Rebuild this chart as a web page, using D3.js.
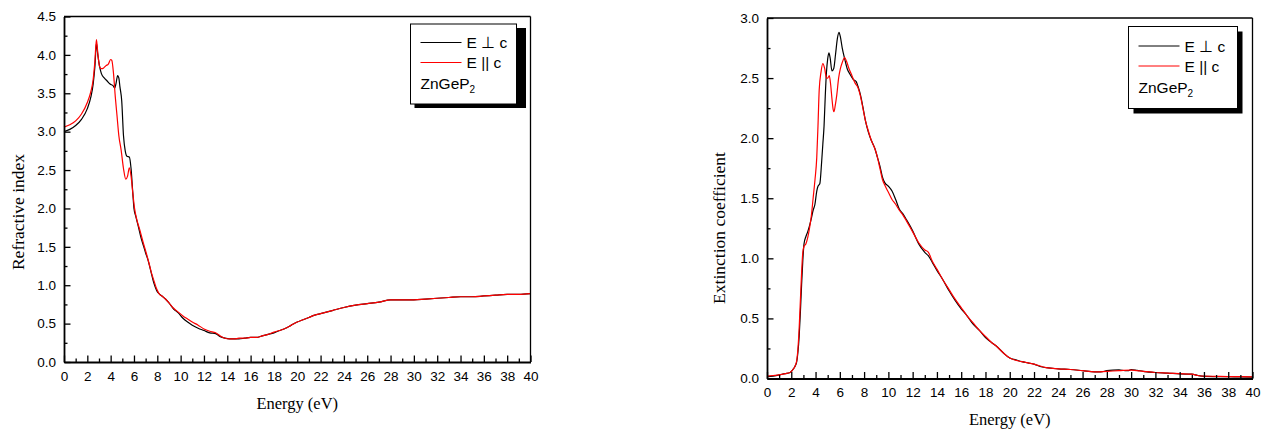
<!DOCTYPE html>
<html><head><meta charset="utf-8">
<script src="https://cdn.jsdelivr.net/npm/d3@7"></script>
<style>body{margin:0;background:#fff;} svg{display:block;}</style>
</head><body>
<svg id="c" width="1270" height="434"></svg>
<script>
// ---------- DATA ----------
// Refractive index, E perpendicular c
const nPerpE = [0,0.5,1,1.5,2,2.3,2.5,2.65,2.78,2.9,3.05,3.2,3.45,3.7,3.95,4.2,4.35,4.45,4.6,4.7,4.8,4.95,5.1,5.25,5.4,5.6,5.75,5.9,6.0,6.15,6.35,6.6,6.8,7.0,7.2,7.45,7.7,7.95,8.15,8.4,8.7,9.0,9.4,9.8,10.2,10.6,11.0,11.5,12.0,12.5,13.0,13.4,13.8,14.2,14.6,15.0,15.5,16.0,16.5,17.0,17.5,18.0,18.5,19.0,19.5,20.0,20.5,21.0,21.5,22.0,23,24,25,26,27,28,29,30,31,32,33,34,35,36,37,38,39,40];
const nPerp  = [3.00,3.03,3.08,3.16,3.30,3.45,3.62,3.85,4.15,4.00,3.85,3.76,3.70,3.66,3.62,3.60,3.57,3.62,3.73,3.70,3.58,3.40,2.95,2.75,2.68,2.67,2.52,2.20,2.00,1.90,1.78,1.62,1.52,1.42,1.33,1.18,1.03,0.93,0.89,0.86,0.82,0.77,0.69,0.64,0.57,0.52,0.48,0.44,0.41,0.38,0.37,0.33,0.31,0.30,0.30,0.30,0.31,0.32,0.32,0.34,0.36,0.38,0.41,0.44,0.48,0.52,0.55,0.58,0.61,0.63,0.67,0.71,0.74,0.76,0.78,0.81,0.81,0.81,0.82,0.83,0.84,0.85,0.85,0.86,0.87,0.88,0.88,0.89];
// Refractive index, E parallel c
const nParE = [0,0.5,1,1.5,2,2.3,2.5,2.65,2.78,2.9,3.05,3.2,3.4,3.6,3.8,4.0,4.1,4.25,4.4,4.55,4.7,4.9,5.1,5.3,5.45,5.6,5.75,5.9,6.05,6.25,6.5,6.8,7.05,7.3,7.5,7.75,7.95,8.2,8.4,8.7,9.0,9.4,9.8,10.2,10.6,11.0,11.5,12.0,12.5,13.0,13.4,13.8,14.2,14.6,15.0,15.5,16.0,16.5,17.0,17.5,18.0,18.5,19.0,19.5,20.0,20.5,21.0,21.5,22.0,23,24,25,26,27,28,29,30,31,32,33,34,35,36,37,38,39,40];
const nPar  = [3.06,3.09,3.14,3.23,3.38,3.52,3.68,3.92,4.20,4.02,3.85,3.82,3.83,3.86,3.88,3.94,3.93,3.75,3.45,3.20,2.95,2.76,2.52,2.38,2.42,2.53,2.42,2.20,2.00,1.85,1.72,1.55,1.42,1.28,1.16,1.04,0.95,0.88,0.86,0.82,0.77,0.70,0.65,0.60,0.56,0.52,0.48,0.43,0.40,0.38,0.34,0.31,0.30,0.30,0.31,0.31,0.32,0.32,0.34,0.36,0.39,0.41,0.44,0.48,0.52,0.55,0.58,0.61,0.63,0.67,0.71,0.74,0.76,0.78,0.81,0.81,0.81,0.82,0.83,0.84,0.85,0.85,0.86,0.87,0.88,0.88,0.89];
// Extinction coefficient, E perpendicular c
const kPerpE = [0,0.5,1,1.5,1.9,2.1,2.3,2.45,2.55,2.65,2.75,2.85,2.95,3.05,3.2,3.35,3.5,3.65,3.8,3.95,4.1,4.2,4.35,4.5,4.6,4.7,4.8,4.9,5.0,5.1,5.2,5.35,5.5,5.65,5.8,5.93,6.05,6.2,6.4,6.6,6.85,7.1,7.35,7.5,7.7,7.9,8.1,8.35,8.6,8.9,9.1,9.3,9.5,9.7,10.0,10.3,10.6,10.9,11.2,11.5,12.0,12.5,13.0,13.3,13.6,14.0,14.5,15.0,15.5,16.0,16.5,17.0,17.5,18.0,18.5,19.0,19.5,20.0,20.5,21.0,21.5,22.0,22.5,23.0,24.0,25.0,26.0,27.0,27.5,28.0,28.5,29.0,29.5,29.8,30.0,30.5,31.0,32.0,33.0,34.0,35.0,35.5,36.0,37,38,39,40];
const kPerp  = [0.015,0.02,0.03,0.04,0.05,0.07,0.10,0.14,0.22,0.35,0.55,0.78,0.98,1.12,1.18,1.22,1.27,1.33,1.40,1.45,1.56,1.60,1.62,1.80,1.95,2.10,2.35,2.55,2.66,2.71,2.67,2.56,2.58,2.70,2.83,2.88,2.84,2.75,2.66,2.58,2.53,2.49,2.47,2.43,2.36,2.26,2.15,2.05,1.98,1.91,1.84,1.77,1.68,1.63,1.60,1.56,1.49,1.41,1.37,1.32,1.23,1.12,1.05,1.02,0.97,0.90,0.82,0.73,0.65,0.58,0.52,0.45,0.40,0.34,0.30,0.26,0.21,0.17,0.155,0.14,0.13,0.12,0.10,0.09,0.08,0.075,0.065,0.055,0.055,0.065,0.07,0.072,0.065,0.065,0.075,0.068,0.06,0.05,0.045,0.038,0.036,0.025,0.018,0.016,0.015,0.013,0.012];
// Extinction coefficient, E parallel c
const kParE = [0,0.5,1,1.5,1.9,2.1,2.3,2.45,2.55,2.65,2.75,2.85,2.95,3.05,3.2,3.35,3.5,3.65,3.8,3.95,4.1,4.2,4.3,4.45,4.6,4.75,4.9,5.0,5.13,5.25,5.35,5.45,5.52,5.62,5.75,5.9,6.05,6.2,6.4,6.55,6.75,7.0,7.25,7.5,7.7,7.9,8.1,8.35,8.6,8.9,9.1,9.3,9.5,9.7,10.0,10.3,10.6,10.9,11.2,11.5,12.0,12.5,13.0,13.3,13.6,14.0,14.5,15.0,15.5,16.0,16.5,17.0,17.5,18.0,18.5,19.0,19.5,20.0,21,22,23,24,25,26,27,28,29,30,31,32,33,34,35,35.5,36,37,38,39,40];
const kPar  = [0.02,0.025,0.03,0.04,0.05,0.07,0.10,0.15,0.25,0.42,0.65,0.88,1.05,1.10,1.12,1.17,1.25,1.35,1.50,1.65,1.84,2.10,2.40,2.55,2.62,2.58,2.50,2.50,2.52,2.44,2.33,2.24,2.22,2.27,2.36,2.50,2.58,2.63,2.67,2.64,2.58,2.52,2.46,2.42,2.35,2.25,2.15,2.06,1.98,1.91,1.84,1.75,1.66,1.61,1.55,1.49,1.45,1.40,1.36,1.31,1.22,1.13,1.07,1.05,0.98,0.91,0.82,0.74,0.66,0.59,0.52,0.46,0.40,0.35,0.30,0.26,0.21,0.17,0.14,0.12,0.09,0.08,0.075,0.065,0.055,0.06,0.065,0.07,0.06,0.05,0.045,0.04,0.036,0.025,0.02,0.018,0.016,0.015,0.014];

const xMajorTicks = d3.range(0, 41, 2);
const xMinorTicks = d3.range(1, 40, 2);
const nMajorTicks = [0,0.5,1.0,1.5,2.0,2.5,3.0,3.5,4.0,4.5];
const nMinorTicks = [0.25,0.75,1.25,1.75,2.25,2.75,3.25,3.75,4.25];
const kMajorTicks = [0,0.5,1.0,1.5,2.0,2.5,3.0];
const kMinorTicks = [0.25,0.75,1.25,1.75,2.25,2.75];
const legendLabels = ["E \u22A5 c", "E || c"];
const seriesColors = ["#000000", "#ff0000"];
const xTitle = "Energy (eV)";

// ---------- DRAW ----------
const svg = d3.select("#c");
const tickFont = "'Liberation Sans', Arial, sans-serif";
const titleFont = "'Liberation Serif', 'Times New Roman', serif";

function panel(o) {
  const g = svg.append("g");
  const x = d3.scaleLinear().domain([0, 40]).range([o.L, o.R]);
  const y = d3.scaleLinear().domain([0, o.yMax]).range([o.B, o.T]);

  const line = d3.line().x(d => x(d[0])).y(d => y(d[1])).curve(d3.curveMonotoneX);
  o.series.forEach((s, i) => {
    const pts = s.E.map((e, j) => [e, s.v[j]]);
    g.append("path").datum(pts).attr("d", line)
      .attr("fill", "none").attr("stroke", seriesColors[i]).attr("stroke-width", 1.2)
      .attr("stroke-linejoin", "round");
  });

  g.append("line").attr("x1", o.L).attr("x2", o.R).attr("y1", o.T).attr("y2", o.T)
    .attr("stroke", "#000").attr("stroke-width", 1.3);
  g.append("line").attr("x1", o.R).attr("x2", o.R).attr("y1", o.T).attr("y2", o.B)
    .attr("stroke", "#000").attr("stroke-width", 1.3);

  const xm = g.append("g").attr("transform", `translate(0,${o.B})`)
    .call(d3.axisBottom(x).tickValues(xMinorTicks).tickSize(-3.5).tickSizeOuter(0).tickFormat(""));
  xm.select(".domain").remove();
  const xa = g.append("g").attr("transform", `translate(0,${o.B})`)
    .call(d3.axisBottom(x).tickValues(xMajorTicks).tickSize(-6.5).tickSizeOuter(0).tickPadding(9).tickFormat(d3.format("d")));
  const ym = g.append("g").attr("transform", `translate(${o.L},0)`)
    .call(d3.axisLeft(y).tickValues(o.yMinor).tickSize(-3.5).tickSizeOuter(0).tickFormat(""));
  ym.select(".domain").remove();
  const ya = g.append("g").attr("transform", `translate(${o.L},0)`)
    .call(d3.axisLeft(y).tickValues(o.yMajor).tickSize(-6.5).tickSizeOuter(0).tickPadding(8).tickFormat(d3.format(".1f")));

  [xa, ya, xm, ym].forEach(a => {
    a.selectAll(".domain").attr("stroke-width", 1.8);
    a.selectAll(".tick line").attr("stroke-width", 1.3);
    a.selectAll("text").attr("font-family", tickFont).attr("font-size", "13.5px").attr("fill", "#000");
  });

  g.append("text").attr("x", (o.L + o.R) / 2).attr("y", o.xTitleY).attr("text-anchor", "middle")
    .attr("font-family", titleFont).attr("font-size", "16.5px").text(xTitle);
  g.append("text").attr("transform", `translate(${o.yTitleX},${o.yTitleY}) rotate(-90)`)
    .attr("text-anchor", "middle").attr("font-family", titleFont).attr("font-size", "17.5px").text(o.yTitle);

  const lg = o.legend;
  g.append("rect").attr("x", lg.x + lg.sdx).attr("y", lg.y + lg.sdy).attr("width", lg.w + lg.sw).attr("height", lg.h).attr("fill", "#000");
  g.append("rect").attr("x", lg.x).attr("y", lg.y).attr("width", lg.w).attr("height", lg.h)
    .attr("fill", "#fff").attr("stroke", "#000").attr("stroke-width", 1);
  legendLabels.forEach((lab, i) => {
    const ly = lg.y + lg.row0 + i * 20;
    g.append("line").attr("x1", lg.x + 10).attr("x2", lg.x + 51).attr("y1", ly).attr("y2", ly)
      .attr("stroke", seriesColors[i]).attr("stroke-width", 1);
    g.append("text").attr("x", lg.x + 56).attr("y", ly + 5.5).attr("font-family", tickFont)
      .attr("font-size", "15.5px").text(lab);
  });
  const zt = g.append("text").attr("x", lg.x + 10).attr("y", lg.y + lg.row0 + 46.5)
    .attr("font-family", tickFont).attr("font-size", "15.5px");
  zt.append("tspan").text("ZnGeP");
  zt.append("tspan").attr("dy", 4).attr("font-size", "10px").text("2");
}

panel({
  L: 64, R: 530.5, T: 16.5, B: 362, yMax: 4.5,
  yMajor: nMajorTicks, yMinor: nMinorTicks,
  series: [{E: nPerpE, v: nPerp}, {E: nParE, v: nPar}],
  xTitleY: 408.5, yTitle: "Refractive index", yTitleX: 24, yTitleY: 212,
  legend: {x: 410.5, y: 24, w: 106, h: 80, sdx: 4, sdy: 4, sw: 5.5, row0: 18.5}
});
panel({
  L: 767, R: 1252.5, T: 18, B: 378.5, yMax: 3.0,
  yMajor: kMajorTicks, yMinor: kMinorTicks,
  series: [{E: kPerpE, v: kPerp}, {E: kParE, v: kPar}],
  xTitleY: 425, yTitle: "Extinction coefficient", yTitleX: 725, yTitleY: 228,
  legend: {x: 1128.5, y: 26.5, w: 109, h: 82, sdx: 5, sdy: 5, sw: 0, row0: 19.5}
});
</script>
</body></html>
